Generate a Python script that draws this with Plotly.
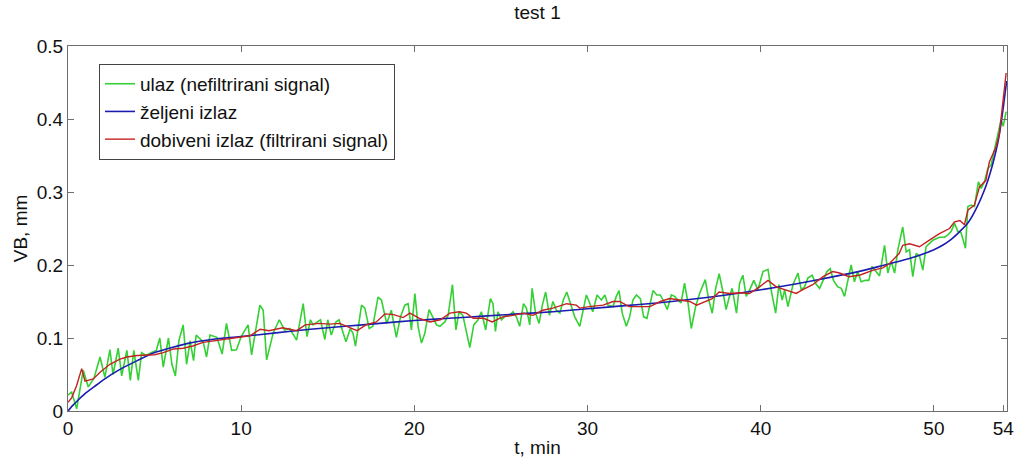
import plotly.graph_objects as go

# Input signal (unfiltered) – time in minutes, wear VB in mm
ulaz_t = [0.0, 0.21, 0.5, 0.88, 1.17, 1.5, 1.85, 2.13, 2.42, 2.6, 2.9, 3.1, 3.4, 3.6, 3.8, 4.06,
          4.25, 4.5, 4.8, 5.1, 5.3, 5.5, 5.8, 6.0, 6.2, 6.4, 6.65, 6.85, 7.05, 7.25, 7.4, 7.8,
          8.0, 8.2, 8.6, 8.9, 9.15, 9.45, 9.73, 10.0, 10.4, 10.6, 11.08, 11.27, 11.47, 11.75,
          11.85, 12.2, 12.5, 12.8, 13.2, 13.58, 13.8, 14.0, 14.15, 14.4, 14.58, 14.83, 15.0,
          15.2, 15.47, 15.65, 15.9, 16.05, 16.3, 16.46, 16.6, 16.95, 17.14, 17.39, 17.6, 17.9,
          18.1, 18.4, 18.67, 18.96, 19.2, 19.45, 19.64, 19.83, 20.03, 20.22, 20.41, 20.6, 20.85,
          21.04, 21.28, 21.47, 21.76, 21.95, 22.2, 22.4, 22.58, 22.8, 23.0, 23.2, 23.43, 23.68,
          23.87, 24.12, 24.26, 24.39, 24.54, 24.68, 24.83, 25.03, 25.28, 25.5, 25.7, 25.89,
          26.08, 26.3, 26.47, 26.66, 26.8, 27.0, 27.2, 27.39, 27.58, 27.8, 28.0, 28.2, 28.4,
          28.6, 28.8, 29.0, 29.26, 29.55, 29.74, 29.93, 30.12, 30.3, 30.55, 30.8, 31.0, 31.18,
          31.47, 31.66, 31.82, 32.0, 32.24, 32.43, 32.62, 32.82, 33.05, 33.24, 33.43, 33.6,
          33.78, 34.0, 34.2, 34.4, 34.6, 34.84, 35.03, 35.22, 35.4, 35.6, 35.8, 35.99, 36.24,
          36.47, 36.6, 36.8, 37.0, 37.2, 37.4, 37.6, 37.82, 38.0, 38.16, 38.35, 38.6, 38.78,
          38.97, 39.16, 39.36, 39.6, 39.84, 40.13, 40.42, 40.6, 40.86, 41.05, 41.24, 41.38,
          41.57, 41.86, 42.15, 42.34, 42.53, 42.72, 42.97, 43.16, 43.4, 43.59, 43.82, 44.01,
          44.2, 44.45, 44.65, 44.84, 45.03, 45.22, 45.41, 45.6, 45.8, 46.05, 46.24, 46.43,
          46.66, 46.86, 47.15, 47.34, 47.53, 47.73, 47.92, 48.2, 48.4, 48.59, 48.78, 48.98,
          49.17, 49.36, 49.55, 49.74, 49.94, 50.13, 50.32, 50.61, 50.8, 51.0, 51.19, 51.38,
          51.57, 51.82, 51.96, 52.15, 52.34, 52.57, 52.73, 52.92, 53.11, 53.3, 53.5, 53.69,
          53.88, 54.0, 54.17]
ulaz_vb = [0.022, 0.026, 0.003, 0.056, 0.033, 0.045, 0.074, 0.046, 0.084, 0.05, 0.086, 0.048,
           0.083, 0.042, 0.083, 0.042, 0.08, 0.076, 0.08, 0.083, 0.1, 0.06, 0.1, 0.064, 0.048,
           0.096, 0.118, 0.064, 0.096, 0.069, 0.104, 0.095, 0.074, 0.104, 0.101, 0.078, 0.12,
           0.083, 0.084, 0.102, 0.118, 0.077, 0.145, 0.138, 0.07, 0.095, 0.107, 0.125, 0.111,
           0.113, 0.097, 0.147, 0.102, 0.125, 0.118, 0.122, 0.125, 0.098, 0.125, 0.104, 0.122,
           0.125, 0.104, 0.095, 0.113, 0.106, 0.089, 0.145, 0.141, 0.113, 0.116, 0.156, 0.152,
           0.12, 0.138, 0.101, 0.129, 0.145, 0.147, 0.111, 0.161, 0.115, 0.093, 0.106, 0.139,
           0.129, 0.118, 0.116, 0.122, 0.131, 0.173, 0.111, 0.136, 0.131, 0.111, 0.087, 0.118,
           0.125, 0.136, 0.111, 0.134, 0.154, 0.147, 0.109, 0.136, 0.125, 0.131, 0.131, 0.136,
           0.129, 0.116, 0.147, 0.141, 0.118, 0.168, 0.134, 0.12, 0.145, 0.163, 0.131, 0.15,
           0.138, 0.134, 0.152, 0.163, 0.147, 0.129, 0.116, 0.139, 0.159, 0.148, 0.136, 0.159,
           0.152, 0.159, 0.145, 0.143, 0.157, 0.165, 0.134, 0.116, 0.129, 0.152, 0.159, 0.154,
           0.129, 0.127, 0.145, 0.165, 0.159, 0.159, 0.15, 0.139, 0.159, 0.157, 0.152, 0.148,
           0.175, 0.148, 0.113, 0.143, 0.161, 0.168, 0.18, 0.152, 0.134, 0.168, 0.188, 0.163,
           0.139, 0.154, 0.168, 0.134, 0.175, 0.186, 0.157, 0.166, 0.179, 0.166, 0.191, 0.194,
           0.166, 0.134, 0.173, 0.152, 0.166, 0.143, 0.173, 0.189, 0.166, 0.17, 0.182, 0.186,
           0.175, 0.168, 0.179, 0.191, 0.195, 0.179, 0.17, 0.168, 0.157, 0.179, 0.2, 0.177,
           0.191, 0.177, 0.179, 0.179, 0.198, 0.191, 0.185, 0.227, 0.189, 0.205, 0.189, 0.221,
           0.252, 0.218, 0.221, 0.184, 0.216, 0.212, 0.193, 0.225, 0.229, 0.234, 0.236, 0.238,
           0.238, 0.241, 0.246, 0.257, 0.246, 0.244, 0.223, 0.28, 0.282, 0.28, 0.314, 0.305,
           0.314, 0.332, 0.337, 0.357, 0.376, 0.399, 0.39, 0.41]

# Desired output
zeljeni_t = [0, 0.25, 0.5, 1, 1.5, 2, 3, 4, 5, 6, 7, 8, 9, 10, 12, 14, 16, 18, 20, 22, 24, 26,
             28, 30, 32, 34, 36, 38, 40, 42, 44, 46, 47, 48, 49, 50, 50.5, 51, 51.5, 52, 52.5,
             53, 53.25, 53.5, 53.75, 54, 54.2]
zeljeni_vb = [0.0, 0.007, 0.013, 0.024, 0.033, 0.042, 0.057, 0.069, 0.08, 0.087, 0.093, 0.097,
              0.1, 0.102, 0.107, 0.112, 0.116, 0.12, 0.124, 0.127, 0.13, 0.133, 0.136, 0.14,
              0.144, 0.148, 0.153, 0.159, 0.166, 0.174, 0.183, 0.193, 0.199, 0.205, 0.212, 0.221,
              0.227, 0.235, 0.246, 0.259, 0.28, 0.308, 0.326, 0.348, 0.375, 0.415, 0.452]

# Obtained output (filtered signal)
dobiveni_t = [0.0, 0.21, 0.5, 0.79, 0.98, 1.46, 1.85, 2.42, 3.0, 3.4, 4.0, 4.5, 5.0, 5.5, 6.1,
              6.65, 7.2, 7.8, 8.4, 9.15, 9.9, 10.5, 11.1, 11.6, 12.4, 13.2, 13.7, 14.5, 15.1,
              15.7, 16.3, 16.7, 17.2, 17.8, 18.3, 18.8, 19.35, 19.74, 20.3, 20.9, 21.5, 22.05,
              22.6, 23.0, 23.4, 24.0, 24.5, 25.1, 25.7, 26.3, 26.85, 27.4, 28.0, 28.8, 29.35,
              29.55, 30.1, 30.9, 31.47, 31.85, 32.4, 33.0, 33.6, 34.2, 34.74, 35.3, 35.9, 36.3,
              36.85, 37.2, 37.6, 38.2, 38.8, 39.35, 39.93, 40.42, 40.9, 41.47, 42.05, 42.4, 43.0,
              43.6, 44.16, 44.55, 45.1, 45.7, 46.5, 47.05, 47.44, 48.0, 48.2, 48.6, 49.17, 49.74,
              50.32, 50.9, 51.19, 51.5, 51.76, 51.96, 52.34, 52.63, 53.0, 53.2, 53.59, 53.78,
              53.97, 54.17]
dobiveni_vb = [0.012, 0.018, 0.035, 0.058, 0.041, 0.044, 0.053, 0.064, 0.071, 0.074, 0.076,
               0.077, 0.077, 0.08, 0.085, 0.086, 0.089, 0.094, 0.096, 0.098, 0.1, 0.103, 0.112,
               0.11, 0.114, 0.11, 0.118, 0.12, 0.119, 0.12, 0.114, 0.11, 0.118, 0.122, 0.133,
               0.132, 0.128, 0.134, 0.127, 0.122, 0.125, 0.134, 0.136, 0.134, 0.127, 0.127,
               0.122, 0.129, 0.131, 0.134, 0.131, 0.138, 0.141, 0.147, 0.145, 0.141, 0.143,
               0.145, 0.15, 0.15, 0.143, 0.143, 0.143, 0.15, 0.154, 0.152, 0.15, 0.145, 0.15,
               0.154, 0.163, 0.161, 0.162, 0.161, 0.17, 0.179, 0.17, 0.166, 0.161, 0.166, 0.173,
               0.184, 0.191, 0.189, 0.184, 0.186, 0.193, 0.196, 0.202, 0.216, 0.227, 0.229,
               0.225, 0.234, 0.243, 0.25, 0.259, 0.261, 0.255, 0.275, 0.282, 0.307, 0.316,
               0.341, 0.362, 0.38, 0.417, 0.463]

x_ticks = [0, 10, 20, 30, 40, 50, 54]
y_ticks = [0, 0.1, 0.2, 0.3, 0.4, 0.5]
y_tick_text = ["0", "0.1", "0.2", "0.3", "0.4", "0.5"]

FONT = "Liberation Sans, Arial, sans-serif"
AXIS_GREY = "#6e6e6e"

fig = go.Figure()
fig.add_trace(go.Scatter(x=ulaz_t, y=ulaz_vb, mode="lines", name="ulaz (nefiltrirani signal)",
                         line=dict(color="#35d035", width=1.6)))
fig.add_trace(go.Scatter(x=zeljeni_t, y=zeljeni_vb, mode="lines", name="željeni izlaz",
                         line=dict(color="#1c1cb0", width=1.6, shape="spline", smoothing=0.6)))
fig.add_trace(go.Scatter(x=dobiveni_t, y=dobiveni_vb, mode="lines",
                         name="dobiveni izlaz (filtrirani signal)",
                         line=dict(color="#c42222", width=1.4)))

fig.update_layout(
    width=1021, height=458,
    margin=dict(l=68, r=14, t=46, b=47),
    paper_bgcolor="white", plot_bgcolor="white",
    font=dict(family=FONT, size=19, color="#111111"),
    title=dict(text="test 1", x=0.5, xref="paper", y=1 - 12 / 458, yanchor="middle",
               xanchor="center", font=dict(family=FONT, size=19, color="#111111")),
    showlegend=True,
    legend=dict(x=0.033, y=0.951, xanchor="left", yanchor="top",
                bgcolor="white", bordercolor="#444444", borderwidth=1,
                font=dict(family=FONT, size=19, color="#111111"),
                itemwidth=30, tracegroupgap=0),
)

fig.update_xaxes(
    range=[0, 54.22], tickmode="array", tickvals=x_ticks, ticktext=[str(v) for v in x_ticks],
    ticks="inside", ticklen=6, tickcolor=AXIS_GREY, tickwidth=1,
    showline=True, linecolor=AXIS_GREY, linewidth=1, mirror="ticks",
    showgrid=False, zeroline=False,
    tickfont=dict(family=FONT, size=19, color="#111111"),
    title=dict(text="t, min", standoff=2, font=dict(family=FONT, size=19, color="#111111")),
    automargin=False,
)
fig.update_yaxes(
    range=[0, 0.5], tickmode="array", tickvals=y_ticks, ticktext=y_tick_text,
    ticks="inside", ticklen=6, tickcolor=AXIS_GREY, tickwidth=1,
    showline=True, linecolor=AXIS_GREY, linewidth=1, mirror="ticks",
    showgrid=False, zeroline=False,
    tickfont=dict(family=FONT, size=19, color="#111111"),
    title=dict(text="VB, mm", standoff=4, font=dict(family=FONT, size=19, color="#111111")),
    automargin=False,
)

fig.write_html("out.html")
